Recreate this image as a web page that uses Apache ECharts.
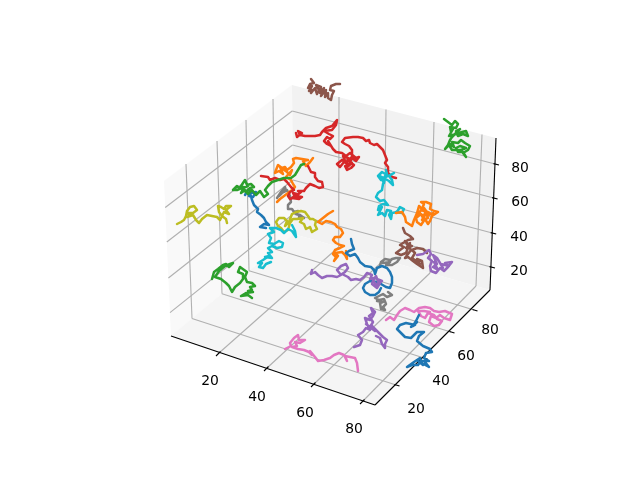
<!DOCTYPE html>
<html>
<head>
<meta charset="utf-8">
<style>html,body{margin:0;padding:0;background:#fff}#c{width:640px;height:480px}</style>
<script src="https://cdn.jsdelivr.net/npm/echarts@6/dist/echarts.min.js"></script>
</head>
<body>
<div id="c"></div>
<script>
// Values are projected picture-plane readings of the 3D walks.
const walkBrownTop=[[311,79],[314,83],[310,84],[308,88],[312,86],[309,91],[313,90],[311,93],[315,88],[317,94],[319,90],[316,85],[321,87],[320,93],[324,88],[321,96],[326,90],[325,97],[328,93],[328,98],[331,100],[332,95],[334,91],[330,90],[331,86],[329,85],[333,87],[336,84],[340,84]];
const walkGreenTop=[[444,119],[448,122],[450,120],[452,125],[455,121],[458,124],[456,128],[450,127],[451,132],[453,129],[449,136],[456,134],[462,132],[466,131],[468,136],[463,134],[458,136],[456,131],[460,129],[452,137],[450,140],[448,145],[445,149],[450,144],[454,147],[452,142],[458,143],[461,140],[465,143],[470,146],[468,150],[463,153],[466,157],[463,152],[458,152],[456,148],[460,146],[466,148],[461,150],[452,150],[449,145]];
const walkRedLong=[[296,133],[297,137],[302,133],[298,131],[300,135],[305,136],[310,136],[315,136],[320,135],[322,132],[321,130],[326,128],[332,126],[337,120],[339,119],[336,125],[332,130],[324,131],[329,134],[333,136],[330,139],[327,137],[324,141],[327,144],[331,146],[328,141],[333,149],[336,152],[338,154],[342,153],[346,156],[350,153],[356,158],[359,157],[356,161],[352,158],[350,162],[354,165],[351,168],[347,170],[345,166],[349,164],[344,162],[340,167],[337,164],[342,160],[346,163],[343,156],[348,158],[346,168],[352,163],[348,160],[352,157],[352,150],[349,146],[345,144],[342,142],[345,138],[353,137],[358,137],[363,138],[366,141],[369,140],[370,143],[374,145],[377,144],[380,147],[383,150],[385,155],[387,160],[385,163],[388,167],[388,173],[392,177],[396,178]];
const walkRedLeft=[[261,176],[263,178],[268,177],[270,180],[275,178],[280,180],[284,179],[287,182],[291,187],[294,190],[290,192],[288,196],[290,199],[295,197],[293,193],[297,194],[292,198],[299,199],[302,197],[296,196],[301,192],[298,191],[304,191],[306,188],[310,184],[315,186],[319,188],[323,187],[322,182],[318,181],[315,177],[315,173],[311,172],[309,168],[308,166]];
const walkOrangeTop=[[313,158],[310,162],[306,166],[303,161],[308,160],[302,159],[296,158],[293,159],[294,163],[291,167],[287,170],[285,167],[282,168],[278,165],[276,170],[275,173],[279,171],[283,174],[280,167],[287,172],[290,175],[292,170],[286,177],[291,180],[289,178],[293,184],[295,187],[292,190],[288,193],[284,196],[280,199],[277,202]];
const walkGreenMid=[[304,164],[301,165],[298,170],[295,175],[291,178],[284,178],[278,180],[272,182],[268,186],[265,190],[268,194],[264,197],[260,191],[256,195],[252,190],[248,194],[245,190],[241,193],[244,187],[237,190],[233,190],[237,186],[240,188],[243,183],[245,180],[247,185],[251,184],[254,187],[250,188],[246,192],[242,189],[248,186]];
const walkBlueUpper=[[245,195],[248,190],[252,191],[249,196],[253,197],[256,192],[250,193],[252,200],[254,205],[258,209],[257,212],[261,215],[264,218],[266,222],[269,225],[264,224],[260,227],[266,228]];
const walkOliveLeft=[[177,224],[181,222],[184,220],[186,216],[187,211],[190,207],[194,206],[197,210],[193,213],[188,213],[190,216],[187,217],[193,215],[193,217],[196,220],[199,223],[202,219],[207,215],[212,216],[217,217],[220,220],[222,216],[219,212],[218,206],[221,207],[224,209],[226,206],[231,206],[226,210],[229,214],[224,212],[222,216],[226,219],[227,223]];
const walkOliveMid=[[276,222],[279,218],[284,218],[287,221],[285,226],[289,222],[292,214],[296,212],[301,211],[305,212],[308,216],[310,219],[313,219],[316,221],[315,225],[317,229],[312,232],[310,227],[306,229],[304,224],[300,222],[303,218],[297,219],[293,219],[290,223],[288,230],[284,232],[281,228],[278,226],[276,222]];
const walkGrayUpper=[[277,198],[281,192],[285,187],[286,191],[282,193],[279,196],[284,191],[287,190],[290,196],[291,202],[288,205],[288,209],[292,209],[294,212],[298,211],[296,214],[300,215],[304,218],[299,217]];
const walkOrangeMid=[[333,211],[328,214],[323,218],[318,222],[322,224],[326,221],[331,222],[335,224],[334,226],[337,227],[341,229],[343,233],[340,237],[335,237],[333,240],[336,243],[340,245],[344,246],[340,248],[335,250],[333,254],[336,257],[334,261],[332,263],[336,262],[338,256],[335,253],[342,252],[345,255],[347,259],[346,251]];
const walkBlueMid=[[351,239],[352,244],[354,249],[349,251],[346,253],[350,256],[355,254],[358,258],[360,262],[365,266],[371,267],[374,270],[375,274],[377,268],[382,266],[387,268],[390,272],[392,277],[392,283],[390,288],[386,287],[381,284],[376,282],[370,281],[365,284],[363,288],[365,292],[370,295],[375,295],[379,292],[381,288]];
const walkPurpleLong=[[312,270],[311,274],[315,272],[318,275],[322,278],[327,276],[332,276],[337,277],[341,275],[337,270],[341,266],[346,264],[348,268],[345,272],[342,274],[348,277],[351,280],[356,279],[360,280],[364,277],[367,273],[372,275],[370,279],[374,278],[372,284],[377,288],[380,283],[377,279],[382,281],[377,285],[373,281],[376,276],[379,284]];
const walkGrayRight=[[380,266],[381,262],[385,259],[390,260],[388,263],[392,259],[396,258],[400,258],[397,262],[392,265],[386,265],[390,262],[383,263]];
const walkGrayLower=[[388,292],[392,295],[387,297],[383,294],[379,296],[375,298],[379,300],[384,299],[386,304],[383,307],[385,310],[381,309],[380,303],[383,302],[377,301]];
const walkBrownMid=[[403,228],[405,233],[410,236],[413,239],[408,240],[403,243],[400,245],[404,247],[400,250],[396,253],[401,255],[406,253],[410,243],[406,248],[412,246],[408,244],[405,241],[411,250],[405,258],[408,257],[413,261],[417,264],[423,268],[422,261],[417,259],[420,264],[412,258],[415,253],[412,250],[417,248],[423,249],[427,253]];
const walkPurpleRight=[[417,255],[423,254],[429,250],[431,254],[428,258],[432,261],[430,266],[431,271],[436,273],[440,268],[444,271],[448,267],[452,262],[445,263],[449,266],[441,264],[443,268],[437,258],[433,255],[437,264],[433,267],[438,270],[434,262]];
const walkCyanUpper=[[386,170],[387,175],[382,172],[378,176],[381,180],[385,177],[384,183],[380,176],[389,181],[393,185],[392,180],[389,176],[394,173],[384,178],[387,173],[383,184],[382,190],[378,193],[376,197],[380,201],[384,200],[388,205],[383,204],[379,206],[378,210],[382,207],[378,215],[382,213],[385,216],[387,210],[391,211],[389,215],[391,219],[392,213],[397,212],[400,207],[404,209],[402,213],[396,212]];
const walkOrangeRight=[[396,213],[402,212],[405,217],[406,222],[412,226],[414,220],[417,213],[419,206],[422,209],[424,204],[421,202],[426,202],[431,204],[430,209],[434,211],[438,212],[432,216],[430,221],[428,224],[425,219],[421,225],[417,222],[416,218],[421,214],[423,218],[426,211],[430,213],[421,210],[418,215],[425,215],[422,220],[428,218],[424,208],[429,215],[433,213]];
const walkCyanLower=[[292,225],[295,231],[296,237],[292,231],[288,229],[284,233],[281,230],[276,228],[270,228],[274,232],[268,234],[271,238],[269,243],[274,244],[279,241],[283,243],[282,247],[277,248],[272,246],[268,248],[272,252],[268,253],[272,258],[265,257],[269,256],[263,260],[258,263],[262,263],[259,267],[263,268],[266,264],[271,262]];
const walkPurpleLower=[[354,347],[360,345],[362,340],[358,335],[363,332],[366,328],[370,330],[367,324],[365,318],[370,320],[373,316],[375,312],[371,308],[373,313],[369,316],[373,322],[370,327],[366,324],[375,331],[371,325],[379,333],[383,337],[387,340],[385,344],[385,348],[382,344],[380,338],[376,336]];
const walkPinkRight=[[386,320],[390,317],[394,320],[397,315],[400,311],[405,308],[410,310],[414,312],[419,308],[425,307],[430,308],[434,311],[439,312],[445,311],[452,314],[450,320],[444,318],[440,315],[436,318],[431,316],[429,322],[434,326],[439,325],[442,321],[437,319],[434,315],[428,313],[425,318],[421,316],[418,311],[424,311],[430,312]];
const walkBlueLower=[[419,315],[416,321],[413,326],[417,322],[411,327],[415,325],[406,323],[400,325],[397,329],[401,333],[405,337],[411,338],[414,335],[417,332],[424,332],[419,336],[417,341],[423,346],[430,349],[432,352],[426,353],[424,358],[429,361],[421,361],[418,365],[412,365],[407,367],[414,362],[420,358],[423,365],[418,361],[429,367],[425,362]];
const walkPinkLower=[[285,349],[291,346],[290,343],[294,338],[298,335],[299,340],[305,340],[300,343],[295,342],[297,346],[292,347],[298,349],[304,350],[309,352],[312,355],[310,351],[315,357],[318,361],[324,360],[330,358],[334,355],[339,353],[344,355],[347,361],[345,356],[350,357],[355,358],[357,363],[358,371]];
const walkGreenLower=[[212,279],[214,272],[218,269],[223,265],[226,264],[229,267],[233,263],[235,262],[231,261],[230,264],[225,266],[219,271],[215,277],[221,279],[226,283],[229,286],[232,292],[235,287],[240,283],[243,279],[243,274],[238,272],[240,267],[242,266],[247,272],[245,277],[247,282],[252,283],[255,286],[250,287],[252,290],[248,291],[253,292],[246,293],[241,296],[248,295],[252,298]];

const xTickLabels=['20','40','60','80'];
const yTickLabels=['20','40','60','80'];
const zTickLabels=['20','40','60','80'];

const C={blue:'#1f77b4',orange:'#ff7f0e',green:'#2ca02c',red:'#d62728',purple:'#9467bd',brown:'#8c564b',pink:'#e377c2',gray:'#7f7f7f',olive:'#bcbd22',cyan:'#17becf'};
const walks=[
 [walkBrownTop,C.brown],[walkGreenTop,C.green],[walkGrayUpper,C.gray],[walkOliveLeft,C.olive],[walkBlueUpper,C.blue],
 [walkOrangeTop,C.orange],[walkRedLeft,C.red],[walkGreenMid,C.green],[walkRedLong,C.red],[walkOliveMid,C.olive],[walkCyanLower,C.cyan],
 [walkOrangeMid,C.orange],[walkCyanUpper,C.cyan],[walkOrangeRight,C.orange],[walkBrownMid,C.brown],[walkPurpleRight,C.purple],[walkGrayRight,C.gray],
 [walkGrayLower,C.gray],[walkBlueMid,C.blue],[walkPurpleLong,C.purple],[walkPurpleLower,C.purple],[walkPinkRight,C.pink],[walkBlueLower,C.blue],
 [walkPinkLower,C.pink],[walkGreenLower,C.green]
];

// Box frame, read in the picture plane
const A=[171,336],B=[375,405],Cr=[490,290],D=[293.5,234],TL=[164,181],TB=[292,85],TR=[496,138];
const leftWall=[TL,TB,D,A], rightWall=[TB,TR,Cr,D], floorPane=[A,B,Cr,D];
const xTicks=[[219,353],[267,368],[314,384],[363,401]];
const xBack=[[338.7,247],[384,260],[430,273],[476,286]];
const xTop=[[339,97],[386,109.5],[434,122],[482,134.5]];
const yTicks=[[396,385],[424,358],[451,332],[474,310]];
const yBack=[[192,318.5],[222,293.8],[249,270.7],[275,249]];
const yTop=[[186,164],[217,141],[246,120],[273,99]];
const zRight=[[491,267],[492.2,233],[493.6,198],[495,164]];
const zBack=[[293.2,214],[292.9,180],[292.5,145],[292.2,111]];
const zLeft=[[170,312.6],[168.4,278],[166.8,242],[165.2,207.5]];
const xLabelPos=[[210,381],[257,397],[305,413],[354,429]];
const yLabelPos=[[416,409],[441,381],[466,356],[490,330]];
const zLabelPos=[[519,271],[519,237],[520,202],[520,168]];

const seg=(p,q)=>[p[0],p[1],q[0],q[1]];
const gridSegs=[];
for(let i=0;i<4;i++){
  gridSegs.push(seg(xTicks[i],xBack[i]),seg(xBack[i],xTop[i]));
  gridSegs.push(seg(yTicks[i],yBack[i]),seg(yBack[i],yTop[i]));
  gridSegs.push(seg(zRight[i],zBack[i]),seg(zBack[i],zLeft[i]));
}
const tickSegs=[];
for(let i=0;i<4;i++){
  let p=xTicks[i]; tickSegs.push([p[0]-3,p[1]+3,p[0]+1.5,p[1]-1.5]);
  p=yTicks[i]; tickSegs.push([p[0]+3.5,p[1]+1.1,p[0]-1.5,p[1]-.5]);
  p=zRight[i]; tickSegs.push([p[0]+4,p[1]+1,p[0]-1.5,p[1]-.4]);
}
const axisSegs=[seg(A,B),seg(B,Cr),seg(Cr,TR)];

function segSeries(data,color,width,z){
  return {type:'custom',coordinateSystem:'cartesian2d',silent:true,z:z,clip:false,data:data,
    renderItem:(p,api)=>{
      const a=api.coord([api.value(0),api.value(1)]),b=api.coord([api.value(2),api.value(3)]);
      return {type:'line',shape:{x1:a[0],y1:a[1],x2:b[0],y2:b[1]},style:{stroke:color,lineWidth:width,fill:null}};
    }};
}
function paneSeries(pts,color){
  return {type:'custom',coordinateSystem:'cartesian2d',silent:true,z:1,clip:false,data:[[0]],
    renderItem:(p,api)=>({type:'polygon',shape:{points:pts.map(q=>api.coord(q))},style:{fill:color,stroke:null}})};
}
function labelSeries(labels,pos){
  return {type:'custom',coordinateSystem:'cartesian2d',silent:true,z:5,clip:false,
    data:labels.map((t,i)=>[pos[i][0],pos[i][1],t]),
    renderItem:(p,api)=>{
      const a=api.coord([api.value(0),api.value(1)]);
      return {type:'text',style:{text:labels[p.dataIndex],x:a[0],y:a[1],fill:'#000',align:'center',verticalAlign:'middle',font:'13.9px "DejaVu Sans"'}};
    }};
}
const series=[
  paneSeries(leftWall,'#f9f9f9'),paneSeries(rightWall,'#f2f2f2'),paneSeries(floorPane,'#f5f5f5'),
  segSeries(gridSegs,'#b0b0b0',1.1,2),
  segSeries(axisSegs,'#000',1.1,3),segSeries(tickSegs,'#000',1.1,3),
  labelSeries(xTickLabels,xLabelPos),labelSeries(yTickLabels,yLabelPos),labelSeries(zTickLabels,zLabelPos)
];
walks.forEach((w,i)=>series.push({type:'line',data:w[0],symbol:'none',smooth:false,silent:true,clip:false,z:10+i*0.01,
  lineStyle:{color:w[1],width:2.5,join:'round',cap:'round'}}));

const chart=echarts.init(document.getElementById('c'),null,{renderer:'canvas'});
chart.setOption({animation:false,backgroundColor:'#fff',
  grid:{left:0,right:0,top:0,bottom:0},
  xAxis:{type:'value',min:0,max:640,show:false},
  yAxis:{type:'value',min:0,max:480,inverse:true,show:false},
  series:series});
</script>
</body>
</html>
